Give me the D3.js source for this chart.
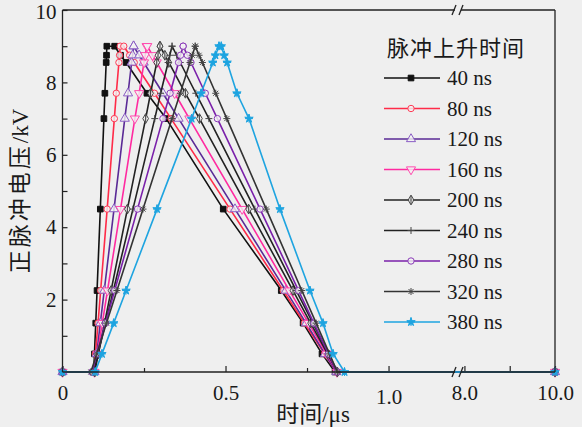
<!DOCTYPE html>
<html>
<head>
<meta charset="utf-8">
<script src="https://cdn.jsdelivr.net/npm/d3@7"></script>
<style>
  html, body { margin: 0; padding: 0; background: #efefef; }
  svg { display: block; }
  text { fill: #1a1a1a; }
</style>
</head>
<body>
<svg id="chart" width="582" height="427"></svg>
<script>
// Pulse rise-time series (legend order)
const riseLabels = ["40 ns", "80 ns", "120 ns", "160 ns", "200 ns", "240 ns", "280 ns", "320 ns", "380 ns"];
const seriesColors = ["#111111", "#ff2b48", "#5a2a96", "#ff2aa0", "#222222", "#222222", "#7a20aa", "#333333", "#1ea4e0"];
const markerColors = ["#111111", "#ff3a55", "#8a5cc4", "#ff4aae", "#444444", "#444444", "#8a3ab8", "#444444", "#1ea4e0"];
const seriesMarkers = ["square", "circle", "triangleUp", "triangleDown", "diamond", "plus", "circle", "asterisk", "star"];

// Sampled voltage levels (kV) on each edge of the pulse
const levels = [0, 0.5, 1.35, 2.25, 4.5, 7.0, 7.7, 8.55, 8.75, 9.0];

// Time (μs) at which each series reaches the levels above on the rising edge
const riseTimes = [
  [0.096, 0.098, 0.102, 0.106, 0.116, 0.127, 0.130, 0.134, 0.135, 0.136],
  [0.097, 0.101, 0.109, 0.117, 0.137, 0.159, 0.165, 0.173, 0.175, 0.177],
  [0.098, 0.105, 0.116, 0.128, 0.158, 0.191, 0.201, 0.212, 0.215, 0.218],
  [0.098, 0.107, 0.122, 0.138, 0.178, 0.222, 0.235, 0.250, 0.254, 0.258],
  [0.099, 0.110, 0.129, 0.149, 0.199, 0.255, 0.270, 0.289, 0.293, 0.299],
  [0.096, 0.109, 0.132, 0.156, 0.216, 0.283, 0.301, 0.324, 0.329, 0.336],
  [0.090, 0.106, 0.132, 0.160, 0.230, 0.308, 0.330, 0.356, 0.362, 0.370],
  [0.087, 0.105, 0.135, 0.167, 0.247, 0.336, 0.361, 0.391, 0.398, 0.407],
  [0.100, 0.121, 0.157, 0.195, 0.290, 0.396, 0.425, 0.461, 0.469, 0.480]
];

// Time (μs) at which each series passes the levels on the falling edge (9.0 kV down to 0)
const fallTimes = [
  [0.160, 0.178, 0.195, 0.259, 0.318, 0.493, 0.671, 0.738, 0.796, 0.836],
  [0.188, 0.206, 0.220, 0.282, 0.333, 0.514, 0.677, 0.742, 0.804, 0.840],
  [0.218, 0.235, 0.249, 0.308, 0.356, 0.529, 0.685, 0.747, 0.805, 0.840],
  [0.260, 0.276, 0.289, 0.344, 0.389, 0.551, 0.696, 0.755, 0.810, 0.842],
  [0.299, 0.314, 0.326, 0.377, 0.420, 0.571, 0.707, 0.761, 0.813, 0.843],
  [0.336, 0.350, 0.361, 0.409, 0.449, 0.590, 0.717, 0.768, 0.816, 0.844],
  [0.370, 0.383, 0.394, 0.438, 0.475, 0.606, 0.724, 0.771, 0.816, 0.842],
  [0.407, 0.419, 0.429, 0.470, 0.504, 0.625, 0.734, 0.778, 0.819, 0.843],
  [0.487, 0.496, 0.505, 0.535, 0.572, 0.667, 0.759, 0.799, 0.830, 0.865]
];

// Window start/end of the record (μs)
const timeStart = 0;
const timeEnd = 10.0;

// Axis ticks
const xTickValues = [0, 0.25, 0.5, 0.75, 1.0, 8.0, 9.0, 10.0];
const xTickLabels = ["0", "", "0.5", "", "1.0", "8.0", "", "10.0"];
const yTickValues = [0, 1, 2, 3, 4, 5, 6, 7, 8, 9, 10];
const yTickLabels = ["", "", "2", "", "4", "", "6", "", "8", "", "10"];

const legendTitle = "脉冲上升时间";
const xTitle = "时间/μs";
const yTitleName = "正脉冲电压";
const yTitleUnit = "/kV";

// ---- layout ----
const W = 582, H = 427;
const plot = { left: 62.5, right: 555, top: 10, bottom: 372 };
const breakLeft = 457, breakRight = 459;
const serif = "'Liberation Serif', 'Times New Roman', 'Noto Sans CJK SC', serif";
const cjk = "'Liberation Serif', 'Noto Sans CJK SC', serif";

const svg = d3.select("#chart");
svg.append("rect").attr("width", W).attr("height", H).attr("fill", "#efefef");

// Broken time axis: 0–1.21 μs, then 7.88–10 μs
const x = d3.scaleLinear()
  .domain([0, 1.21, 7.88, 10])
  .range([plot.left, breakLeft, breakRight, plot.right]);
const y = d3.scaleLinear().domain([0, 10]).range([plot.bottom, plot.top]);

// Build each series as [time, voltage] points
const series = riseLabels.map((label, i) => {
  const pts = [[timeStart, 0]];
  levels.forEach((v, k) => pts.push([riseTimes[i][k], v]));
  const down = levels.slice().reverse();
  down.forEach((v, k) => pts.push([fallTimes[i][k], v]));
  pts.push([timeEnd, 0]);
  return { label, color: seriesColors[i], mcolor: markerColors[i], marker: seriesMarkers[i], pts };
});

// ---- marker shapes ----
function markerPath(type) {
  switch (type) {
    case "square": return d3.symbol(d3.symbolSquare, 32)();
    case "circle": return d3.symbol(d3.symbolCircle, 32)();
    case "triangleUp": return d3.symbol(d3.symbolTriangle, 36)();
    case "triangleDown": return d3.symbol(d3.symbolTriangle, 36)();
    case "diamond": return d3.symbol(d3.symbolDiamond, 28)() + "M0,-4L0,4";
    case "plus": return "M-3.5,0L3.5,0M0,-3.5L0,3.5";
    case "asterisk": return "M-3.5,0L3.5,0M0,-3.5L0,3.5M-2.5,-2.5L2.5,2.5M-2.5,2.5L2.5,-2.5";
    case "star": return d3.symbol(d3.symbolStar, 22)() + "M-4,0L4,0M0,-4.5L0,4";
  }
}
function drawMarker(sel, s, cx, cy) {
  const p = sel.append("path")
    .attr("d", markerPath(s.marker))
    .attr("transform", `translate(${cx},${cy})` + (s.marker === "triangleDown" ? " rotate(180)" : ""))
    .attr("stroke", s.mcolor)
    .attr("stroke-width", 1);
  if (s.marker === "square" || s.marker === "star") p.attr("fill", s.mcolor);
  else if (s.marker === "plus" || s.marker === "asterisk") p.attr("fill", "none");
  else p.attr("fill", "#f4f4f4").attr("fill-opacity", 0.8);
  return p;
}

// ---- axes (ticks point inward) ----
const xAxis = d3.axisBottom(x)
  .tickValues(xTickValues)
  .tickSizeInner(-5).tickSizeOuter(0).tickPadding(10)
  .tickFormat((d, i) => xTickLabels[i]);
const gx = svg.append("g").attr("transform", `translate(0,${plot.bottom})`).call(xAxis);
gx.select(".domain").remove();
gx.selectAll(".tick line").attr("stroke", "#222").attr("stroke-width", 1.2)
  .attr("y2", (d) => (d === 0.25 || d === 0.75) ? -4 : -6);
gx.selectAll(".tick text")
  .attr("font-family", serif).attr("font-size", 21).attr("fill", "#1a1a1a")
  .attr("dy", (d) => d === 1.0 ? "1.05em" : "0.85em");

const yAxis = d3.axisLeft(y)
  .tickValues(yTickValues)
  .tickSizeInner(-5).tickSizeOuter(0).tickPadding(6)
  .tickFormat((d, i) => yTickLabels[i]);
const gy = svg.append("g").attr("transform", `translate(${plot.left},0)`).call(yAxis);
gy.select(".domain").remove();
gy.selectAll(".tick line").attr("stroke", "#222").attr("stroke-width", 1.2);
gy.selectAll(".tick text")
  .attr("font-family", serif).attr("font-size", 21).attr("fill", "#1a1a1a")
  .attr("dy", (d) => d === 10 ? "0.42em" : "0.32em");

// ---- series lines and markers ----
const line = d3.line().x((d) => x(d[0])).y((d) => y(d[1]));
const gSeries = svg.append("g");
series.forEach((s) => {
  gSeries.append("path")
    .datum(s.pts)
    .attr("d", line)
    .attr("fill", "none")
    .attr("stroke", s.color)
    .attr("stroke-width", 1.6)
    .attr("stroke-linejoin", "round");
  const gm = gSeries.append("g");
  s.pts.forEach((p) => drawMarker(gm, s, x(p[0]), y(p[1])));
});

// ---- frame with axis break ----
const frame = svg.append("g").attr("stroke", "#222").attr("stroke-width", 1.3).attr("fill", "none");
frame.append("path").attr("d",
  `M${plot.left},${plot.top}L${plot.left},${plot.bottom}` +
  `M${plot.right},${plot.top}L${plot.right},${plot.bottom}` +
  `M${plot.left},${plot.bottom}L${breakLeft - 2},${plot.bottom}` +
  `M${breakRight + 2},${plot.bottom}L${plot.right},${plot.bottom}` +
  `M${plot.left},${plot.top}L${breakLeft - 2},${plot.top}` +
  `M${breakRight + 2},${plot.top}L${plot.right},${plot.top}`);
[plot.top, plot.bottom].forEach((yy) => {
  [breakLeft - 3, breakRight + 2].forEach((xx) => {
    frame.append("line")
      .attr("x1", xx - 2).attr("y1", yy + 5)
      .attr("x2", xx + 2).attr("y2", yy - 5);
  });
});

// ---- legend ----
const lg = svg.append("g");
lg.append("text")
  .attr("x", 387).attr("y", 48)
  .attr("dy", "0.35em")
  .attr("font-family", cjk).attr("font-size", 22)
  .attr("letter-spacing", 1)
  .text(legendTitle);
series.forEach((s, i) => {
  const cy = 78 + i * 30.5;
  lg.append("line")
    .attr("x1", 384).attr("x2", 440).attr("y1", cy).attr("y2", cy)
    .attr("stroke", s.color).attr("stroke-width", 1.6);
  drawMarker(lg, s, 411, cy);
  lg.append("text")
    .attr("x", 447).attr("y", cy).attr("dy", "0.35em")
    .attr("font-family", serif).attr("font-size", 21)
    .text(s.label);
});

// ---- axis titles ----
svg.append("text")
  .attr("x", 313).attr("y", 414)
  .attr("text-anchor", "middle").attr("dy", "0.35em")
  .attr("font-family", cjk).attr("font-size", 23)
  .text(xTitle);
const yt = svg.append("text")
  .attr("transform", `translate(20,${(plot.top + plot.bottom) / 2}) rotate(-90)`)
  .attr("text-anchor", "middle").attr("dy", "0.35em")
  .attr("font-family", cjk).attr("font-size", 23);
yt.append("tspan").attr("letter-spacing", 3).text(yTitleName);
yt.append("tspan").text(yTitleUnit);
</script>
</body>
</html>
